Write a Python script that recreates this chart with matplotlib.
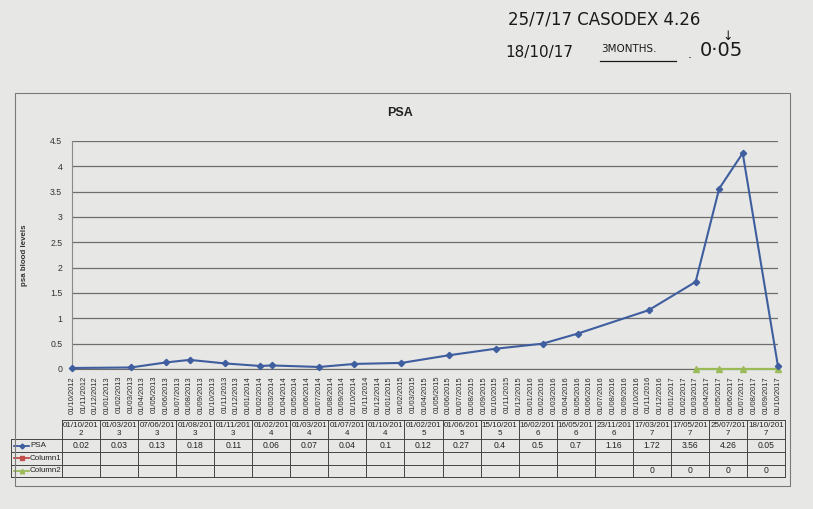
import matplotlib
matplotlib.use('Agg')
import matplotlib.pyplot as plt
import pandas as pd
from matplotlib.lines import Line2D
from matplotlib.patches import Rectangle

# ---------------- data ----------------
dates = ["01/10/2012", "01/03/2013", "07/06/2013", "01/08/2013", "01/11/2013",
         "01/02/2014", "01/03/2014", "01/07/2014", "01/10/2014", "01/02/2015",
         "01/06/2015", "15/10/2015", "16/02/2016", "16/05/2016", "23/11/2016",
         "17/03/2017", "17/05/2017", "25/07/2017", "18/10/2017"]
psa = [0.02, 0.03, 0.13, 0.18, 0.11, 0.06, 0.07, 0.04, 0.1, 0.12,
       0.27, 0.4, 0.5, 0.7, 1.16, 1.72, 3.56, 4.26, 0.05]
column1 = [None] * len(dates)
column2 = [None] * 15 + [0, 0, 0, 0]
series_names = ["PSA", "Column1", "Column2"]
axis_start = "01/10/2012"
axis_end = "01/10/2017"
yticks = [0, 0.5, 1, 1.5, 2, 2.5, 3, 3.5, 4, 4.5]
ytick_labels = ["0", "0.5", "1", "1.5", "2", "2.5", "3", "3.5", "4", "4.5"]
title = "PSA"
ylabel = "psa blood levels"
note_line1 = "25/7/17 CASODEX 4.26"
note_line2a = "18/10/17"
note_line2b = "3MONTHS"
note_line2c = "0·05"

# ---------------- figure ----------------
W, H = 813, 509
fig = plt.figure(figsize=(W / 100, H / 100), dpi=100)
fig.patch.set_facecolor('#e7e7e5')
FONT = ['Liberation Sans', 'DejaVu Sans']
plt.rcParams['font.family'] = FONT


def fx(x):
    return x / W


def fy(y):
    return 1 - y / H


start = pd.to_datetime(axis_start, dayfirst=True)
end = pd.to_datetime(axis_end, dayfirst=True)


def month_index(s):
    d = pd.to_datetime(s, dayfirst=True)
    return (d.year - start.year) * 12 + d.month - start.month


n_months = month_index(axis_end)
xs = [month_index(d) for d in dates]
tick_dates = pd.date_range(start, end, freq='MS')

# chart frame
fig.add_artist(Rectangle((fx(15), fy(486)), fx(790) - fx(15), fy(93) - fy(486),
                         transform=fig.transFigure, fill=False,
                         edgecolor='#7a7a7a', lw=0.8))

# plot area
L, R, T, B = 72, 778, 141, 369
ax = fig.add_axes([fx(L), fy(B), fx(R) - fx(L), fy(T) - fy(B)])
ax.set_facecolor('none')
ax.set_xlim(0, n_months)
ax.set_ylim(0, 4.5)
for s in ['top', 'right']:
    ax.spines[s].set_visible(False)
ax.spines['left'].set_color('#8a8a8a')
ax.spines['bottom'].set_color('#6a6a6a')
ax.set_yticks(yticks)
ax.set_yticklabels(ytick_labels, fontsize=6.3, color='#333333')
ax.yaxis.grid(True, color='#6e6e6e', lw=0.9)
ax.set_axisbelow(True)
ax.set_xticks(range(len(tick_dates)))
ax.set_xticklabels([d.strftime('%d/%m/%Y') for d in tick_dates],
                   rotation=90, fontsize=5.4, color='#2a2a2a')
ax.tick_params(axis='both', length=0, pad=5)
ax.tick_params(axis='y', pad=7)
ax.set_ylabel(ylabel, fontsize=5.7, fontweight='bold', color='#333333', labelpad=16)

blue = '#3f5e9f'
red = '#c0504d'
green = '#9bbb59'
ax.plot(xs, psa, color=blue, lw=1.5, marker='D', ms=3.2, zorder=4, clip_on=False)
x2 = [x for x, v in zip(xs, column2) if v is not None]
y2 = [v for v in column2 if v is not None]
ax.plot(x2, y2, color=green, lw=1.6, marker='^', ms=4.2, zorder=3, clip_on=False)

fig.text(fx(400), fy(113), title, fontsize=9, fontweight='bold',
         ha='center', va='center', color='#222222')

# ---------------- data table ----------------
TL, TR = 62, 785
LL = 11
rows_y = [420, 439, 452, 465, 477]
tax = fig.add_axes([fx(LL), fy(rows_y[-1]), fx(TR) - fx(LL), fy(rows_y[0]) - fy(rows_y[-1])])
tax.set_xlim(LL, TR)
tax.set_ylim(rows_y[-1], rows_y[0])
tax.axis('off')
ncol = len(dates)
cw = (TR - TL) / ncol
lc = '#444444'
tax.plot([TL, TR], [rows_y[0], rows_y[0]], color=lc, lw=0.7, clip_on=False)
for y in rows_y[1:]:
    tax.plot([LL, TR], [y, y], color=lc, lw=0.7, clip_on=False)
tax.plot([LL, LL], [rows_y[1], rows_y[-1]], color=lc, lw=0.7, clip_on=False)
for i in range(ncol + 1):
    x = TL + i * cw
    tax.plot([x, x], [rows_y[0], rows_y[-1]], color=lc, lw=0.7, clip_on=False)

tfs = 5.8
for i, d in enumerate(dates):
    cx = TL + (i + 0.5) * cw
    tax.text(cx, (rows_y[0] + rows_y[1]) / 2, d[:9] + "\n" + d[9:], fontsize=tfs,
             ha='center', va='center', color='#222222', linespacing=1.1)
    tax.text(cx, (rows_y[1] + rows_y[2]) / 2, f"{psa[i]:g}", fontsize=6.2,
             ha='center', va='center', color='#222222')
    if column1[i] is not None:
        tax.text(cx, (rows_y[2] + rows_y[3]) / 2, f"{column1[i]:g}", fontsize=6.2,
                 ha='center', va='center', color='#222222')
    if column2[i] is not None:
        tax.text(cx, (rows_y[3] + rows_y[4]) / 2, f"{column2[i]:g}", fontsize=6.2,
                 ha='center', va='center', color='#222222')

legend_styles = [(blue, 'D', 2.5), (red, 's', 3), (green, '^', 3.2)]
for k, (name, (c, m, ms)) in enumerate(zip(series_names, legend_styles)):
    yc = (rows_y[k + 1] + rows_y[k + 2]) / 2
    tax.plot([LL + 3, LL + 18], [yc, yc], color=c, lw=1.3, clip_on=False)
    tax.plot([LL + 10.5], [yc], color=c, marker=m, ms=ms, clip_on=False)
    tax.text(LL + 19, yc, name, fontsize=tfs, ha='left', va='center', color='#222222')

# ---------------- handwritten notes ----------------
hw = dict(color='#1a1a1a', fontweight='normal', family=['DejaVu Sans'])
fig.text(fx(508), fy(20), note_line1, fontsize=12, ha='left', va='center', **hw)
fig.text(fx(505), fy(52), note_line2a, fontsize=11, ha='left', va='center', **hw)
fig.text(fx(601), fy(49), note_line2b + ".", fontsize=7.5, ha='left', va='center', **hw)
fig.add_artist(Line2D([fx(600), fx(676)], [fy(61), fy(61)], color='#1a1a1a', lw=0.9))
fig.text(fx(688), fy(55), ".", fontsize=9, ha='left', va='center', **hw)
fig.text(fx(728), fy(36), "↓", fontsize=9, ha='center', va='center', **hw)
fig.text(fx(700), fy(51), note_line2c, fontsize=14, ha='left', va='center', **hw)

fig.savefig('out.png', dpi=100, facecolor=fig.get_facecolor())
